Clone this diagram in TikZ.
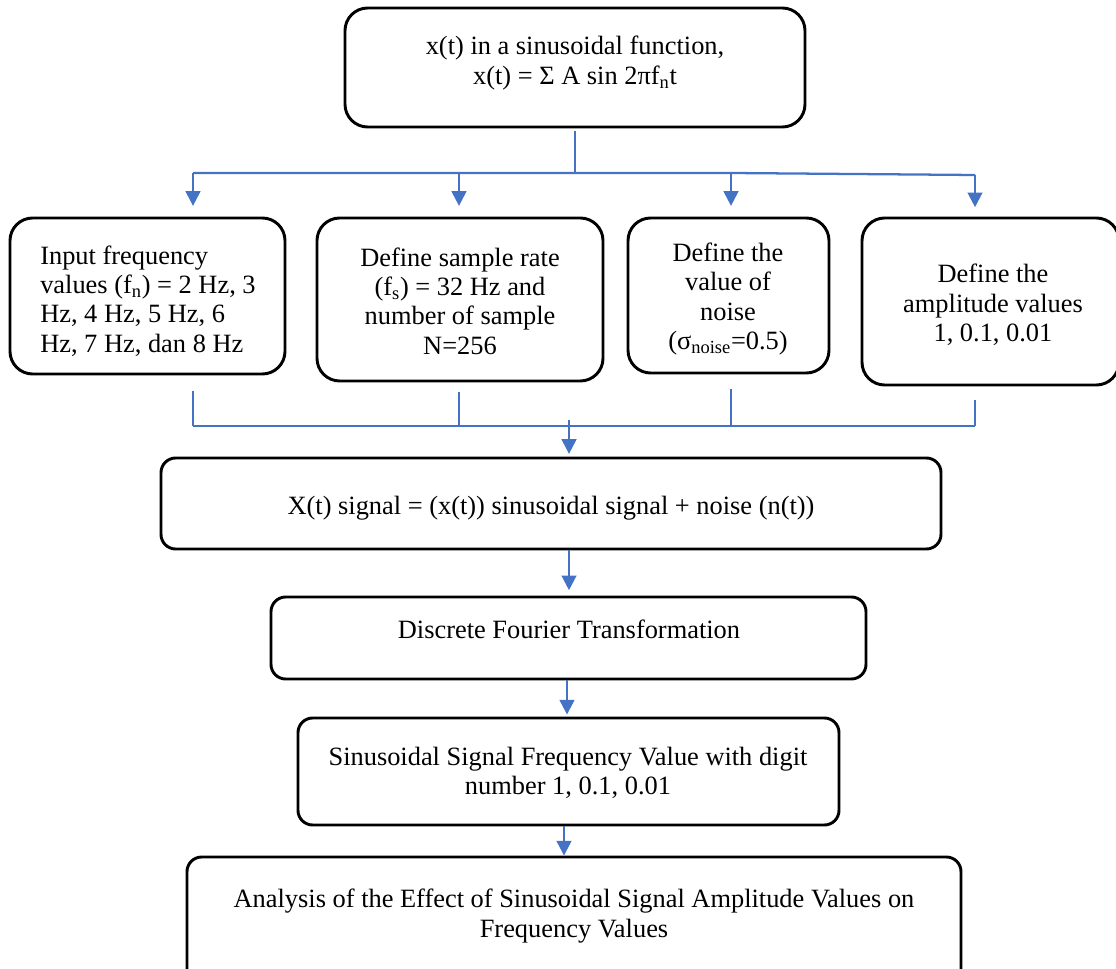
\documentclass[tikz,border=0pt]{standalone}
\usepackage{fontspec}
\setmainfont{Liberation Serif}
\usetikzlibrary{arrows.meta,fit}
\definecolor{flowblue}{HTML}{4472C4}
\begin{document}
\begin{tikzpicture}[x=0.75pt,y=-0.75pt,
  box/.style={draw=black,line width=2.2pt,rounded corners=17pt,inner sep=0pt},
  lbox/.style={box,rounded corners=11pt},
  txt/.style={font=\fontsize{19.8}{22}\selectfont,align=center,inner sep=0pt},
  link/.style={draw=flowblue,line width=1.7pt},
  arr/.style={link,-{Triangle[width=11pt,length=11pt]}},
]
\useasboundingbox (0,0) rectangle (1116,969);
\clip (0,0) rectangle (1116,969);

% boxes
\node[box,fit={(345,8) (805,127)}] (b0) {};
\node[box,fit={(10,218) (285,374)}] (bA) {};
\node[box,fit={(317,218) (603,381)}] (bB) {};
\node[box,fit={(628,218) (829,373)}] (bC) {};
\node[box,fit={(862,218) (1119,385)}] (bD) {};
\node[lbox,fit={(161,458) (941,549)}] (bE) {};
\node[lbox,fit={(271,597) (866,679)}] (bF) {};
\node[lbox,fit={(298,718) (839,825)}] (bG) {};
\node[lbox,fit={(187,857) (961,990)}] (bH) {};

% texts
\node[txt] (t0) at (575,63) {x(t) in a sinusoidal function,\\x(t) = Σ A sin 2πf\textsubscript{n}t};
\node[txt,anchor=west,align=left] (tA) at (40,301) {Input frequency\\values (f\textsubscript{n}) = 2 Hz, 3\\Hz, 4 Hz, 5 Hz, 6\\Hz, 7 Hz, dan 8 Hz};
\node[txt] (tB) at (460,301) {Define sample rate\\(f\textsubscript{s}) = 32 Hz and\\number of sample\\N=256};
\node[txt] (tC) at (728,299) {Define the\\value of\\noise\\(σ\textsubscript{noise}=0.5)};
\node[txt] (tD) at (993,305) {Define the\\amplitude values\\1, 0.1, 0.01};
\node[txt] (tE) at (551,508) {X(t) signal = (x(t)) sinusoidal signal + noise (n(t))};
\node[txt] (tF) at (569,629) {Discrete Fourier Transformation};
\node[txt] (tG) at (568,773) {Sinusoidal Signal Frequency Value with digit\\number 1, 0.1, 0.01};
\node[txt] (tH) at (574,916) {Analysis of the Effect of Sinusoidal Signal Amplitude Values on\\Frequency Values};

% top distribution bus
\coordinate (busL) at (193,173);
\coordinate (busB) at (459,173);
\coordinate (busC) at (731,173);
\coordinate (busR) at (975,175);
\draw[link,shorten <=2pt] (b0.south) -- (b0.south |- busL);
\draw[link] (busL) -- (busC) -- (busR);
\draw[arr,shorten >=8pt] (busL) -- (busL |- bA.north);
\draw[arr,shorten >=8pt] (busB) -- (busB |- bB.north);
\draw[arr,shorten >=8pt] (busC) -- (busC |- bC.north);
\draw[arr,shorten >=7pt] (busR) -- (busR |- bD.north);

% collecting bus
\coordinate (jA) at (193,426);
\coordinate (jB) at (459,426);
\coordinate (jC) at (731,426);
\coordinate (jD) at (975,426);
\coordinate (jM) at (569,420);
\draw[link,shorten <=12pt] (bA.south -| jA) -- (jA);
\draw[link,shorten <=7pt] (bB.south -| jB) -- (jB);
\draw[link,shorten <=11pt] (bC.south -| jC) -- (jC);
\draw[link,shorten <=10pt] (bD.south -| jD) -- (jD);
\draw[link] (jA) -- (jD);
\draw[arr,shorten >=2pt] (jM) -- (jM |- bE.north);

% chain
\coordinate (cF) at (567,650);
\coordinate (cG) at (564,780);
\draw[arr,shorten >=4pt] (bE.south -| jM) -- (bF.north -| jM);
\draw[arr,shorten >=1.5pt] (bF.south -| cF) -- (bG.north -| cF);
\draw[arr] (bG.south -| cG) -- (bH.north -| cG);
\end{tikzpicture}
\end{document}
